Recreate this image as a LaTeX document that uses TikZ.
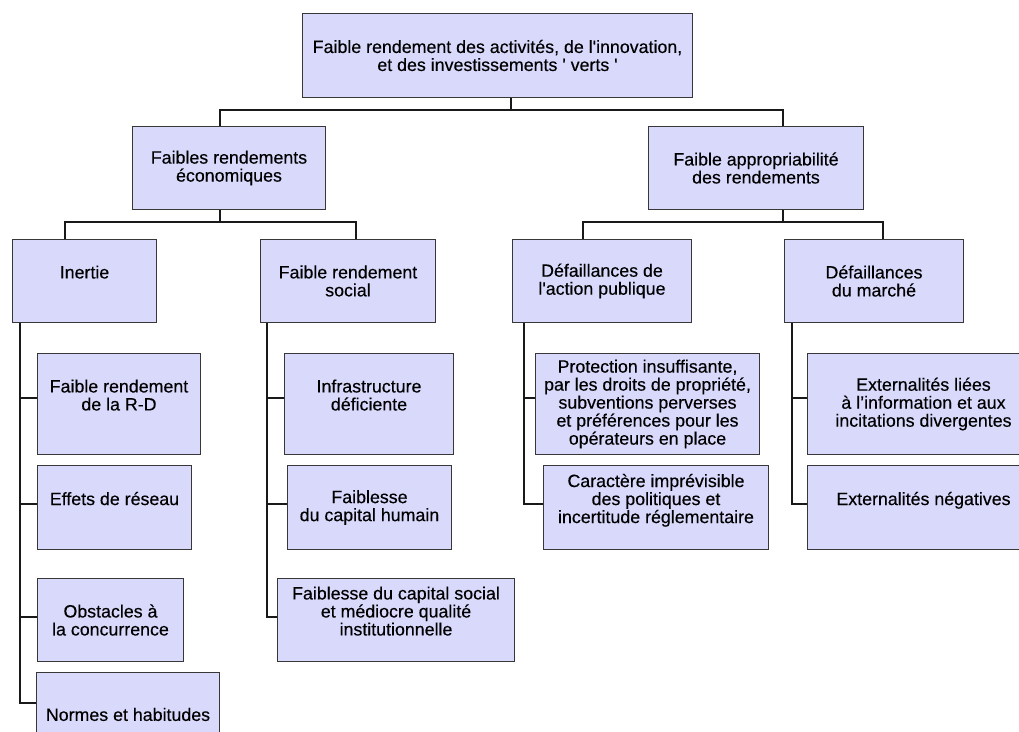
\documentclass[tikz,border=0pt]{standalone}
\usepackage{fontspec}
\setmainfont{Liberation Sans}[UprightFeatures={FakeBold=0.3}]
\definecolor{boxfill}{RGB}{217,217,252}
\definecolor{boxline}{RGB}{55,55,55}

\tikzstyle{layer} = [rectangle, draw=boxline, fill=boxfill, line width=1pt, align=center, anchor=north west, inner sep=0pt, minimum height=84pt]
\tikzstyle{link} = [draw=black!90, line width=1.3pt]

\begin{document}
\begin{tikzpicture}[x=1pt, y=-1pt, font=\fontsize{17.8}{18}\selectfont]
        \useasboundingbox (0,0) rectangle (1019,731);
        \clip (0,0) rectangle (1019,731);

        % top level
        \node[layer, minimum width=390pt] (root) at (302,13) {Faible rendement des activités, de l\textquotesingle innovation,\\et des investissements \textquotesingle{} verts \textquotesingle};
        \node[layer, minimum width=193pt, minimum height=83pt] (eco) at (132,126) {Faibles rendements\\économiques};
        \node[layer, minimum width=215pt, minimum height=83pt] (appro) at (648,126) {Faible appropriabilité\\des rendements};

        % third level
        \node[layer, minimum width=144pt, minimum height=83pt] (inertie) at (12,239) {Inertie\\~};
        \node[layer, minimum width=175pt, minimum height=83pt] (social) at (260,239) {Faible rendement\\social};
        \node[layer, minimum width=179pt, minimum height=83pt] (publique) at (512,239) {Défaillances de\\l\textquotesingle action publique};
        \node[layer, minimum width=179pt, minimum height=83pt] (marche) at (784,239) {Défaillances\\du marché};

        % inertie
        \node[layer, minimum width=163pt, minimum height=101pt] (rd) at (37,353) {Faible rendement\\de la R-D\\~};
        \node[layer, minimum width=154pt] (reseau) at (37,465) {Effets de réseau\\~};
        \node[layer, minimum width=146pt, minimum height=83pt] (obstacles) at (37,578) {Obstacles à\\la concurrence};
        \node[layer, minimum width=183pt] (normes) at (36,672) {Normes et habitudes};

        % rendement social
        \node[layer, minimum width=169pt, minimum height=101pt] (infra) at (284,353) {Infrastructure\\déficiente\\~};
        \node[layer, minimum width=164pt] (humain) at (287,465) {Faiblesse\\du capital humain};
        \node[layer, minimum width=237pt, minimum height=83pt] (capsocial) at (277,578) {Faiblesse du capital social\\et médiocre qualité\\institutionnelle\\~};

        % action publique
        \node[layer, minimum width=224pt, minimum height=101pt] (protection) at (535,353) {Protection insuffisante,\\par les droits de propriété,\\subventions perverses\\et préférences pour les\\opérateurs en place};
        \node[layer, minimum width=225pt] (caractere) at (543,465) {Caractère imprévisible\\des politiques et\\incertitude réglementaire\\~};

        % marche
        \node[layer, minimum width=232pt, minimum height=101pt] (extinfo) at (807,353) {Externalités liées\\à l’information et aux\\incitations divergentes};
        \node[layer, minimum width=232pt] (extneg) at (807,465) {Externalités négatives\\~};

        % bus lines
        \coordinate (s0) at (511,110);
        \coordinate (s1) at (220,222);
        \coordinate (s2) at (783,222);
        \coordinate (tinertie) at (20,0);
        \coordinate (tsocial) at (267,0);
        \coordinate (tpublique) at (524,0);
        \coordinate (tmarche) at (792,0);
        \coordinate (r1) at (0,398);
        \coordinate (r2) at (0,504);
        \coordinate (r3) at (0,617);
        \coordinate (r4) at (0,703);

        \draw[link] (root.south -| s0) -- (s0);
        \draw[link] (s0) -| (eco.north -| s1);
        \draw[link] (s0) -| (appro.north -| s2);
        \draw[link] (eco.south -| s1) -- (s1) -| (inertie.north -| 65,0);
        \draw[link] (s1) -| (social.north -| 356,0);
        \draw[link] (appro.south -| s2) -- (s2) -| (publique.north -| 583,0);
        \draw[link] (s2) -| (marche.north -| 883,0);

        \draw[link] (inertie.south -| tinertie) |- (rd.west |- r1);
        \draw[link] (inertie.south -| tinertie) |- (reseau.west |- r2);
        \draw[link] (inertie.south -| tinertie) |- (obstacles.west |- r3);
        \draw[link] (inertie.south -| tinertie) |- (normes.west |- r4);

        \draw[link] (social.south -| tsocial) |- (infra.west |- r1);
        \draw[link] (social.south -| tsocial) |- (humain.west |- r2);
        \draw[link] (social.south -| tsocial) |- (capsocial.west |- r3);

        \draw[link] (publique.south -| tpublique) |- (protection.west |- r1);
        \draw[link] (publique.south -| tpublique) |- (caractere.west |- r2);

        \draw[link] (marche.south -| tmarche) |- (extinfo.west |- r1);
        \draw[link] (marche.south -| tmarche) |- (extneg.west |- r2);
    \end{tikzpicture}
\end{document}
